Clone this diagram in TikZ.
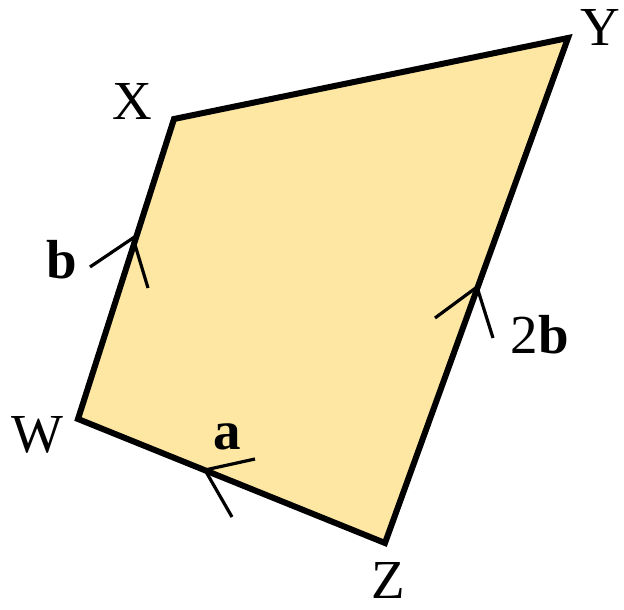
\documentclass[tikz,border=0pt]{standalone}
\usepackage{fontspec}
\setmainfont{Liberation Serif}
\definecolor{quadfill}{RGB}{253,231,163}
\begin{document}
\begin{tikzpicture}[x=1pt,y=1pt,
  edge/.style={line width=6pt,line join=miter},
  chev/.style={line width=3.2pt,line cap=butt,line join=miter},
  lbl/.style={font=\fontsize{55}{60}\selectfont,inner sep=0pt}]
\useasboundingbox (0,0) rectangle (624,610);
\coordinate (W) at (78,191);
\coordinate (X) at (174,491);
\coordinate (Y) at (568,572);
\coordinate (Z) at (385,67);
\draw[edge,fill=quadfill] (W) -- (X) -- (Y) -- (Z) -- cycle;
% chevrons
\coordinate (c1) at (90,343); \coordinate (a1) at (133,372); \coordinate (d1) at (148,322);
\draw[chev] (c1) -- (a1) -- (d1);
\coordinate (c2) at (435,292); \coordinate (a2) at (477,323); \coordinate (d2) at (493,272);
\draw[chev] (c2) -- (a2) -- (d2);
\coordinate (c3) at (255,151); \coordinate (a3) at (205,140); \coordinate (d3) at (232,93);
\draw[chev] (c3) -- (a3) -- (d3);
% labels
\node[lbl] (lX) at (132,508) {X};
\node[lbl] (lY) at (600,582) {Y};
\node[lbl] (lW) at (37,175) {W};
\node[lbl] (lZ) at (388,30) {Z};
\node[lbl] (lb) at (62,350) {\textbf{b}};
\node[lbl] (l2b) at (540,275) {2\textbf{b}};
\node[lbl] (la) at (227,173) {\textbf{a}};
\end{tikzpicture}
\end{document}
